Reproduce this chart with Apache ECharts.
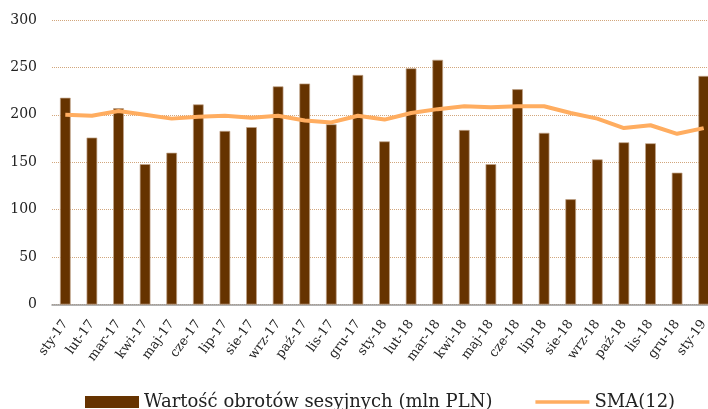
<!DOCTYPE html>
<html>
<head>
<meta charset="utf-8">
<script src="https://cdn.jsdelivr.net/npm/echarts@6/dist/echarts.min.js"></script>
<style>
  html, body { margin: 0; padding: 0; background: #fff; }
  #chart { width: 708px; height: 409px; }
</style>
</head>
<body>
<div id="chart"></div>
<script>
var months = ['sty-17', 'lut-17', 'mar-17', 'kwi-17', 'maj-17', 'cze-17', 'lip-17', 'sie-17', 'wrz-17', 'paź-17', 'lis-17', 'gru-17',
    'sty-18', 'lut-18', 'mar-18', 'kwi-18', 'maj-18', 'cze-18', 'lip-18', 'sie-18', 'wrz-18', 'paź-18', 'lis-18', 'gru-18', 'sty-19'];
var obroty = [218, 176, 207, 148, 160, 211, 183, 187, 230, 233, 190, 242,
    172, 249, 258, 184, 148, 227, 181, 111, 153, 171, 170, 139, 241];
var sma12 = [200, 199, 204, 200, 196, 198, 199, 197, 199, 194, 192, 199,
    195, 202, 206, 209, 208, 209, 209, 202, 196, 186, 189, 180, 186];

var chart = echarts.init(document.getElementById('chart'));
var font = 'DejaVu Serif';

var option = {
    animation: false,
    textStyle: { fontFamily: font },
    // wykres jest przycięty z prawej strony, stąd szerokość większa niż okno
    grid: { left: 52, width: 665, top: 20, height: 284.5, outerBoundsMode: 'none' },
    legend: {
        left: 80,
        top: 388,
        itemGap: 43,
        itemWidth: 54,
        itemHeight: 12,
        textStyle: { fontFamily: font, fontSize: 18, color: '#222' },
        data: [
            { name: 'Wartość obrotów sesyjnych (mln PLN)', icon: 'rect', itemStyle: { borderWidth: 0 } },
            { name: 'SMA(12)', icon: 'path://M0,0L58,0L58,4L0,4Z' }
        ]
    },
    xAxis: {
        type: 'category',
        data: months,
        axisLine: { lineStyle: { color: '#999', width: 1.5 } },
        axisTick: { length: 4, lineStyle: { color: '#999', width: 1.5 } },
        axisLabel: {
            rotate: 54,
            interval: 0,
            margin: 17,
            fontFamily: font,
            fontSize: 13,
            color: '#222'
        }
    },
    yAxis: {
        type: 'value',
        min: 0,
        max: 300,
        interval: 50,
        axisLine: { show: false },
        axisTick: { show: false },
        axisLabel: { margin: 15, fontFamily: font, fontSize: 14, color: '#222' },
        splitLine: { lineStyle: { type: 'dotted', color: '#d2a67c', width: 1 } }
    },
    series: [
        {
            name: 'Wartość obrotów sesyjnych (mln PLN)',
            type: 'bar',
            barWidth: '40%',
            data: obroty,
            itemStyle: { color: '#663300', borderColor: '#c2a486', borderWidth: 0.7 }
        },
        {
            name: 'SMA(12)',
            type: 'line',
            symbol: 'none',
            data: sma12,
            lineStyle: { color: '#ffad60', width: 4 },
            itemStyle: { color: '#ffad60' }
        }
    ]
};
chart.setOption(option);
</script>
</body>
</html>
